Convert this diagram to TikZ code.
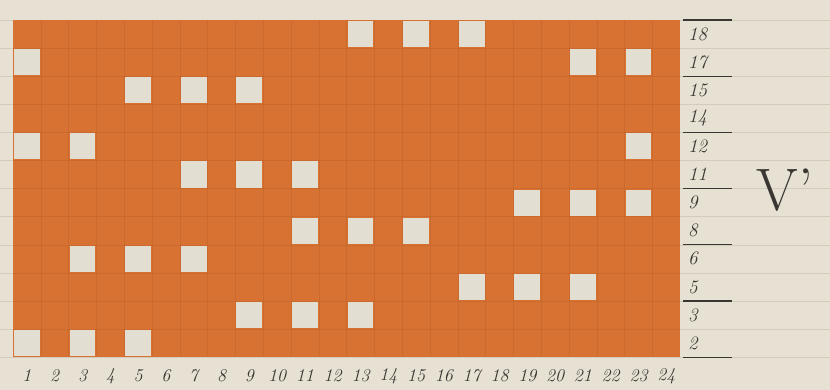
\documentclass[tikz,border=0pt]{standalone}
\usepackage{fontspec}
\begin{document}
\begin{tikzpicture}[x=1pt,y=-1pt,
  paper/.style={fill=paperc},
  cellw/.style={fill=holec},
  thickrule/.style={draw=inkc,line width=1.1pt},
  faintrule/.style={draw=rulec,line width=0.5pt},
  gridline/.style={draw=gridc,line width=0.4pt},
  rowlab/.style={anchor=west,font=\fontsize{19}{19}\selectfont\itshape,text=inkc,inner sep=0pt},
  collab/.style={anchor=center,font=\fontsize{18}{18}\selectfont\itshape,text=inkc,inner sep=0pt}]
\definecolor{paperc}{HTML}{E7E1D3}
\definecolor{orangec}{HTML}{D87232}
\definecolor{holec}{HTML}{E3DED2}
\definecolor{inkc}{HTML}{3A3632}
\definecolor{rulec}{HTML}{D3CCBD}
\definecolor{gridc}{HTML}{B85E28}
\def\cw{27.8}\def\ch{28.1}
\useasboundingbox (0,0) rectangle (830,390);
\fill[paperc] (0,0) rectangle (830,390);
% faint paper rules
\foreach \r in {0,...,12}{
  \draw[faintrule] (0,{20+\r*\ch}) -- (830,{20+\r*\ch});
}
% orange block
\fill[orangec] (13,20) rectangle (680,357);
% white cells: {col/row index from top}
\foreach \c/\r in {13/0,15/0,17/0,
                   1/1,21/1,23/1,
                   5/2,7/2,9/2,
                   1/4,3/4,23/4,
                   7/5,9/5,11/5,
                   19/6,21/6,23/6,
                   11/7,13/7,15/7,
                   3/8,5/8,7/8,
                   17/9,19/9,21/9,
                   9/10,11/10,13/10,
                   1/11,3/11,5/11}{
  \fill[holec] ({13+(\c-1)*\cw+1},{20+\r*\ch+1}) rectangle ({13+\c*\cw-1},{20+(\r+1)*\ch-1});
}
% grid lines
\foreach \i in {1,...,23}{
  \draw[gridline,opacity=0.4] ({13+\i*\cw},20) -- ({13+\i*\cw},357);
}
\foreach \j in {1,...,11}{
  \draw[gridline,opacity=0.4] (13,{20+\j*\ch}) -- (680,{20+\j*\ch});
}
% thick rules on the right
\foreach \j in {0,2,4,6,8,10,12}{
  \draw[thickrule] (683,{20+\j*\ch}) -- (732,{20+\j*\ch});
}
% row labels
\foreach \r/\t in {0/18,1/17,2/15,3/14,4/12,5/11,6/9,7/8,8/6,9/5,10/3,11/2}{
  \node[rowlab] (row\r) at (688,{20+(\r+0.5)*\ch}) {\t};
}
% column labels
\foreach \c in {1,...,24}{
  \node[collab] (col\c) at ({13+(\c-0.5)*\cw},376) {\c};
}
% title
\node[font=\fontsize{60}{60}\selectfont,text=inkc,inner sep=0pt] (title) at (785,190) {V’};
\end{tikzpicture}
\end{document}
